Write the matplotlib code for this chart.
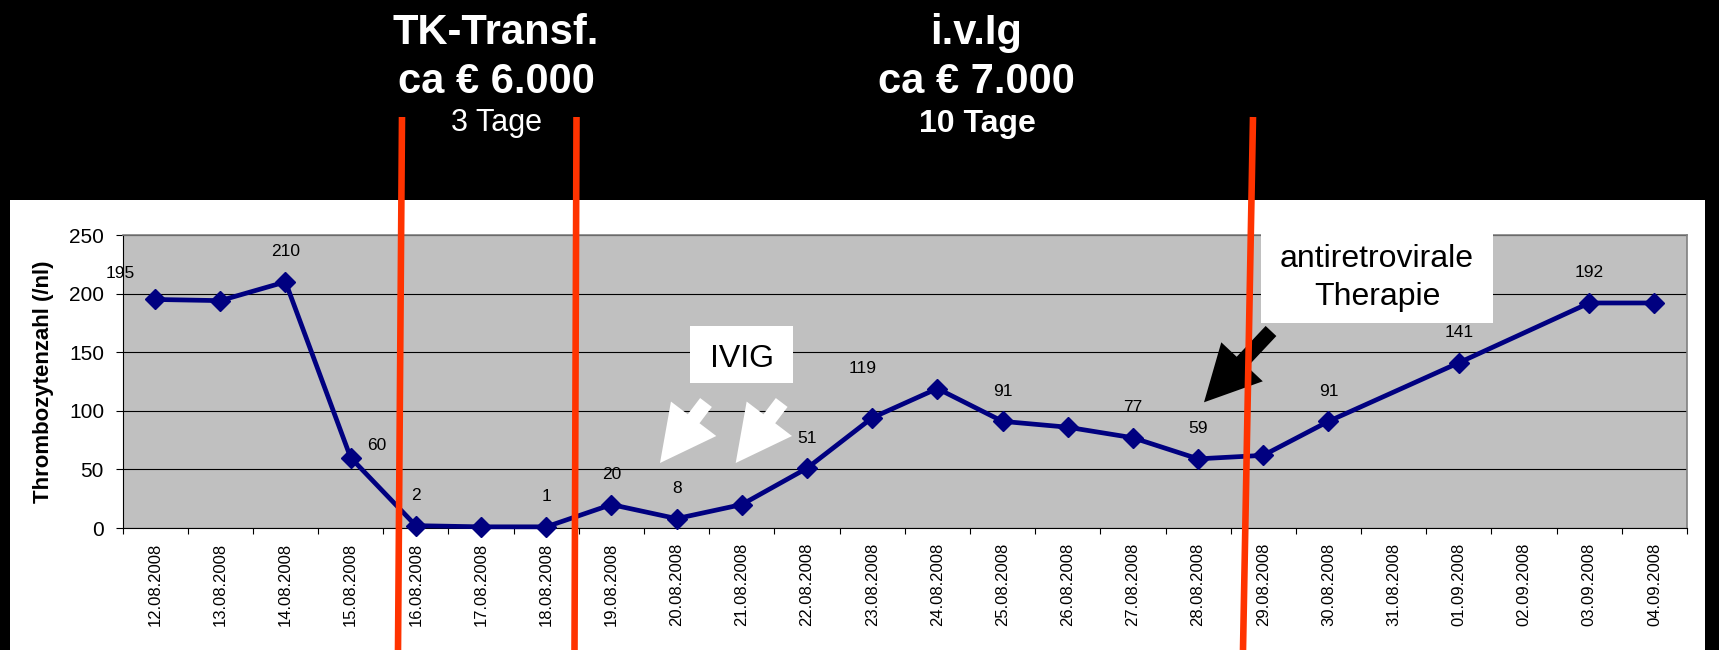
import numpy as np
import matplotlib.pyplot as plt
from matplotlib import font_manager
from matplotlib.patches import Rectangle, FancyArrowPatch
from matplotlib.lines import Line2D

# condensed Arial look if the narrow cut is around, scaled up so text keeps its width
installed = {f.name for f in font_manager.fontManager.ttflist}
if 'Liberation Sans Narrow' in installed:
    plt.rcParams['font.family'] = ['Liberation Sans Narrow', 'Liberation Sans', 'DejaVu Sans']
    k = 1.15
else:
    plt.rcParams['font.family'] = ['Liberation Sans', 'DejaVu Sans']
    k = 1.0

W, H = 1719, 650

dates = ["12.08.2008", "13.08.2008", "14.08.2008", "15.08.2008", "16.08.2008",
         "17.08.2008", "18.08.2008", "19.08.2008", "20.08.2008", "21.08.2008",
         "22.08.2008", "23.08.2008", "24.08.2008", "25.08.2008", "26.08.2008",
         "27.08.2008", "28.08.2008", "29.08.2008", "30.08.2008", "31.08.2008",
         "01.09.2008", "02.09.2008", "03.09.2008", "04.09.2008"]
# Thrombozyten /nl, kein Wert am 31.08. und 02.09.
counts = [195, 194, 210, 60, 2, 1, 1, 20, 8, 20, 51, 94, 119, 91, 86, 77,
          59, 62, 91, None, 141, None, 192, 192]
# Tage mit Wertbeschriftung
labelled = [0, 2, 3, 4, 6, 7, 8, 10, 12, 13, 15, 16, 18, 20, 22]

# label offsets in pixels (default: straight above the marker)
label_shift = {0: (-35, 28), 3: (26, 14), 12: (-75, 22)}


def px(x, y):
    # pixel position (top-left origin) -> figure fraction
    return (x / W, 1 - y / H)


fig = plt.figure(figsize=(W / 100, H / 100), dpi=100, facecolor='black')

# white chart panel below the black header
fig.add_artist(Rectangle(px(10, 650), (1705 - 10) / W, (650 - 200) / H,
                         transform=fig.transFigure, facecolor='white',
                         edgecolor='none', zorder=-1))

ax = fig.add_axes([122.5 / W, (650 - 528) / H, (1687 - 122.5) / W, (528 - 235) / H])
ax.set_facecolor('#c0c0c0')

x = [i for i, v in enumerate(counts) if v is not None]
y = [v for v in counts if v is not None]
ax.plot(x, y, color='#000080', lw=3.4, marker='D', ms=10.3, zorder=3, clip_on=False)

for i in labelled:
    dx, dy = label_shift.get(i, (0, 32))
    ax.annotate(str(counts[i]), (i, counts[i]), xytext=(dx, dy - 6.5 * k),
                textcoords='offset pixels', ha='center', va='baseline',
                fontsize=12.5 * k, color='black')

ax.set_xlim(-0.5, 23.5)
ax.set_ylim(0, 250)
ax.set_yticks(range(0, 251, 50))
ax.set_xticks(range(len(dates)))
ax.set_xticklabels(dates, rotation=90, fontsize=12 * k)
ax.set_xticks(np.arange(-0.5, len(dates)), minor=True)
ax.tick_params(axis='x', which='major', length=0, pad=10.8)
ax.tick_params(axis='x', which='minor', length=4.5, width=0.8, direction='out')
ax.tick_params(axis='y', length=4.8, width=0.8, pad=8.5, labelsize=15 * k)
ax.grid(axis='y', color='black', lw=0.8)
ax.set_axisbelow(True)
for side in ['left', 'bottom']:
    ax.spines[side].set_color('black')
    ax.spines[side].set_linewidth(0.8)
for side in ['top', 'right']:
    ax.spines[side].set_color('#808080')
    ax.spines[side].set_linewidth(1.2)

fig.text(44 / W, 1 - 381.5 / H, 'Thrombozytenzahl (/nl)', rotation=90,
         ha='center', va='center', fontsize=16 * k, fontweight='bold')

# Kopfzeile
hdr = dict(color='white', ha='center', va='baseline')
fig.text(*px(496, 44), 'TK-Transf.', fontsize=30 * k, fontweight='bold', **hdr)
fig.text(*px(496, 93), 'ca € 6.000', fontsize=30 * k, fontweight='bold', **hdr)
fig.text(*px(496, 131), '3 Tage', fontsize=22 * k, **hdr)
fig.text(*px(976, 44), 'i.v.Ig', fontsize=30 * k, fontweight='bold', **hdr)
fig.text(*px(976, 93), 'ca € 7.000', fontsize=30 * k, fontweight='bold', **hdr)
fig.text(*px(977, 132), '10 Tage', fontsize=23 * k, fontweight='bold', **hdr)

# Textkästen
fig.add_artist(Rectangle(px(690, 383), 103 / W, 57 / H, transform=fig.transFigure,
                         facecolor='white', edgecolor='none', zorder=5))
fig.text(*px(741.5, 367), 'IVIG', fontsize=23 * k, ha='center', va='baseline', zorder=6)
fig.add_artist(Rectangle(px(1261, 323), 232 / W, 90 / H, transform=fig.transFigure,
                         facecolor='white', edgecolor='none', zorder=5))
fig.text(*px(1377, 267), 'antiretrovirale', fontsize=23 * k, ha='center', va='baseline', zorder=6)
fig.text(*px(1377, 305), 'Therapie', fontsize=23 * k, ha='center', va='baseline', zorder=6)

# Blockpfeile
arrow_style = 'simple,head_length=40,head_width=41,tail_width=10.6'
for tail, tip, col in [((706, 402.5), (660, 463), 'white'),
                       ((781.7, 402.5), (735.7, 463), 'white'),
                       ((1271, 331), (1204, 402.3), 'black')]:
    fig.add_artist(FancyArrowPatch(px(*tail), px(*tip), transform=fig.transFigure,
                                   arrowstyle=arrow_style, mutation_scale=1,
                                   shrinkA=0, shrinkB=0, facecolor=col,
                                   edgecolor='none', zorder=7))

# rote Markierungslinien
for (xt, xb) in [(402, 398), (576.5, 574.5), (1253, 1243)]:
    fig.add_artist(Line2D([xt / W, xb / W], [1 - 117 / H, 0], transform=fig.transFigure,
                          color='#ff3300', lw=4.75, solid_capstyle='butt', zorder=10))

fig.savefig('out.png', dpi=100, facecolor='black')
